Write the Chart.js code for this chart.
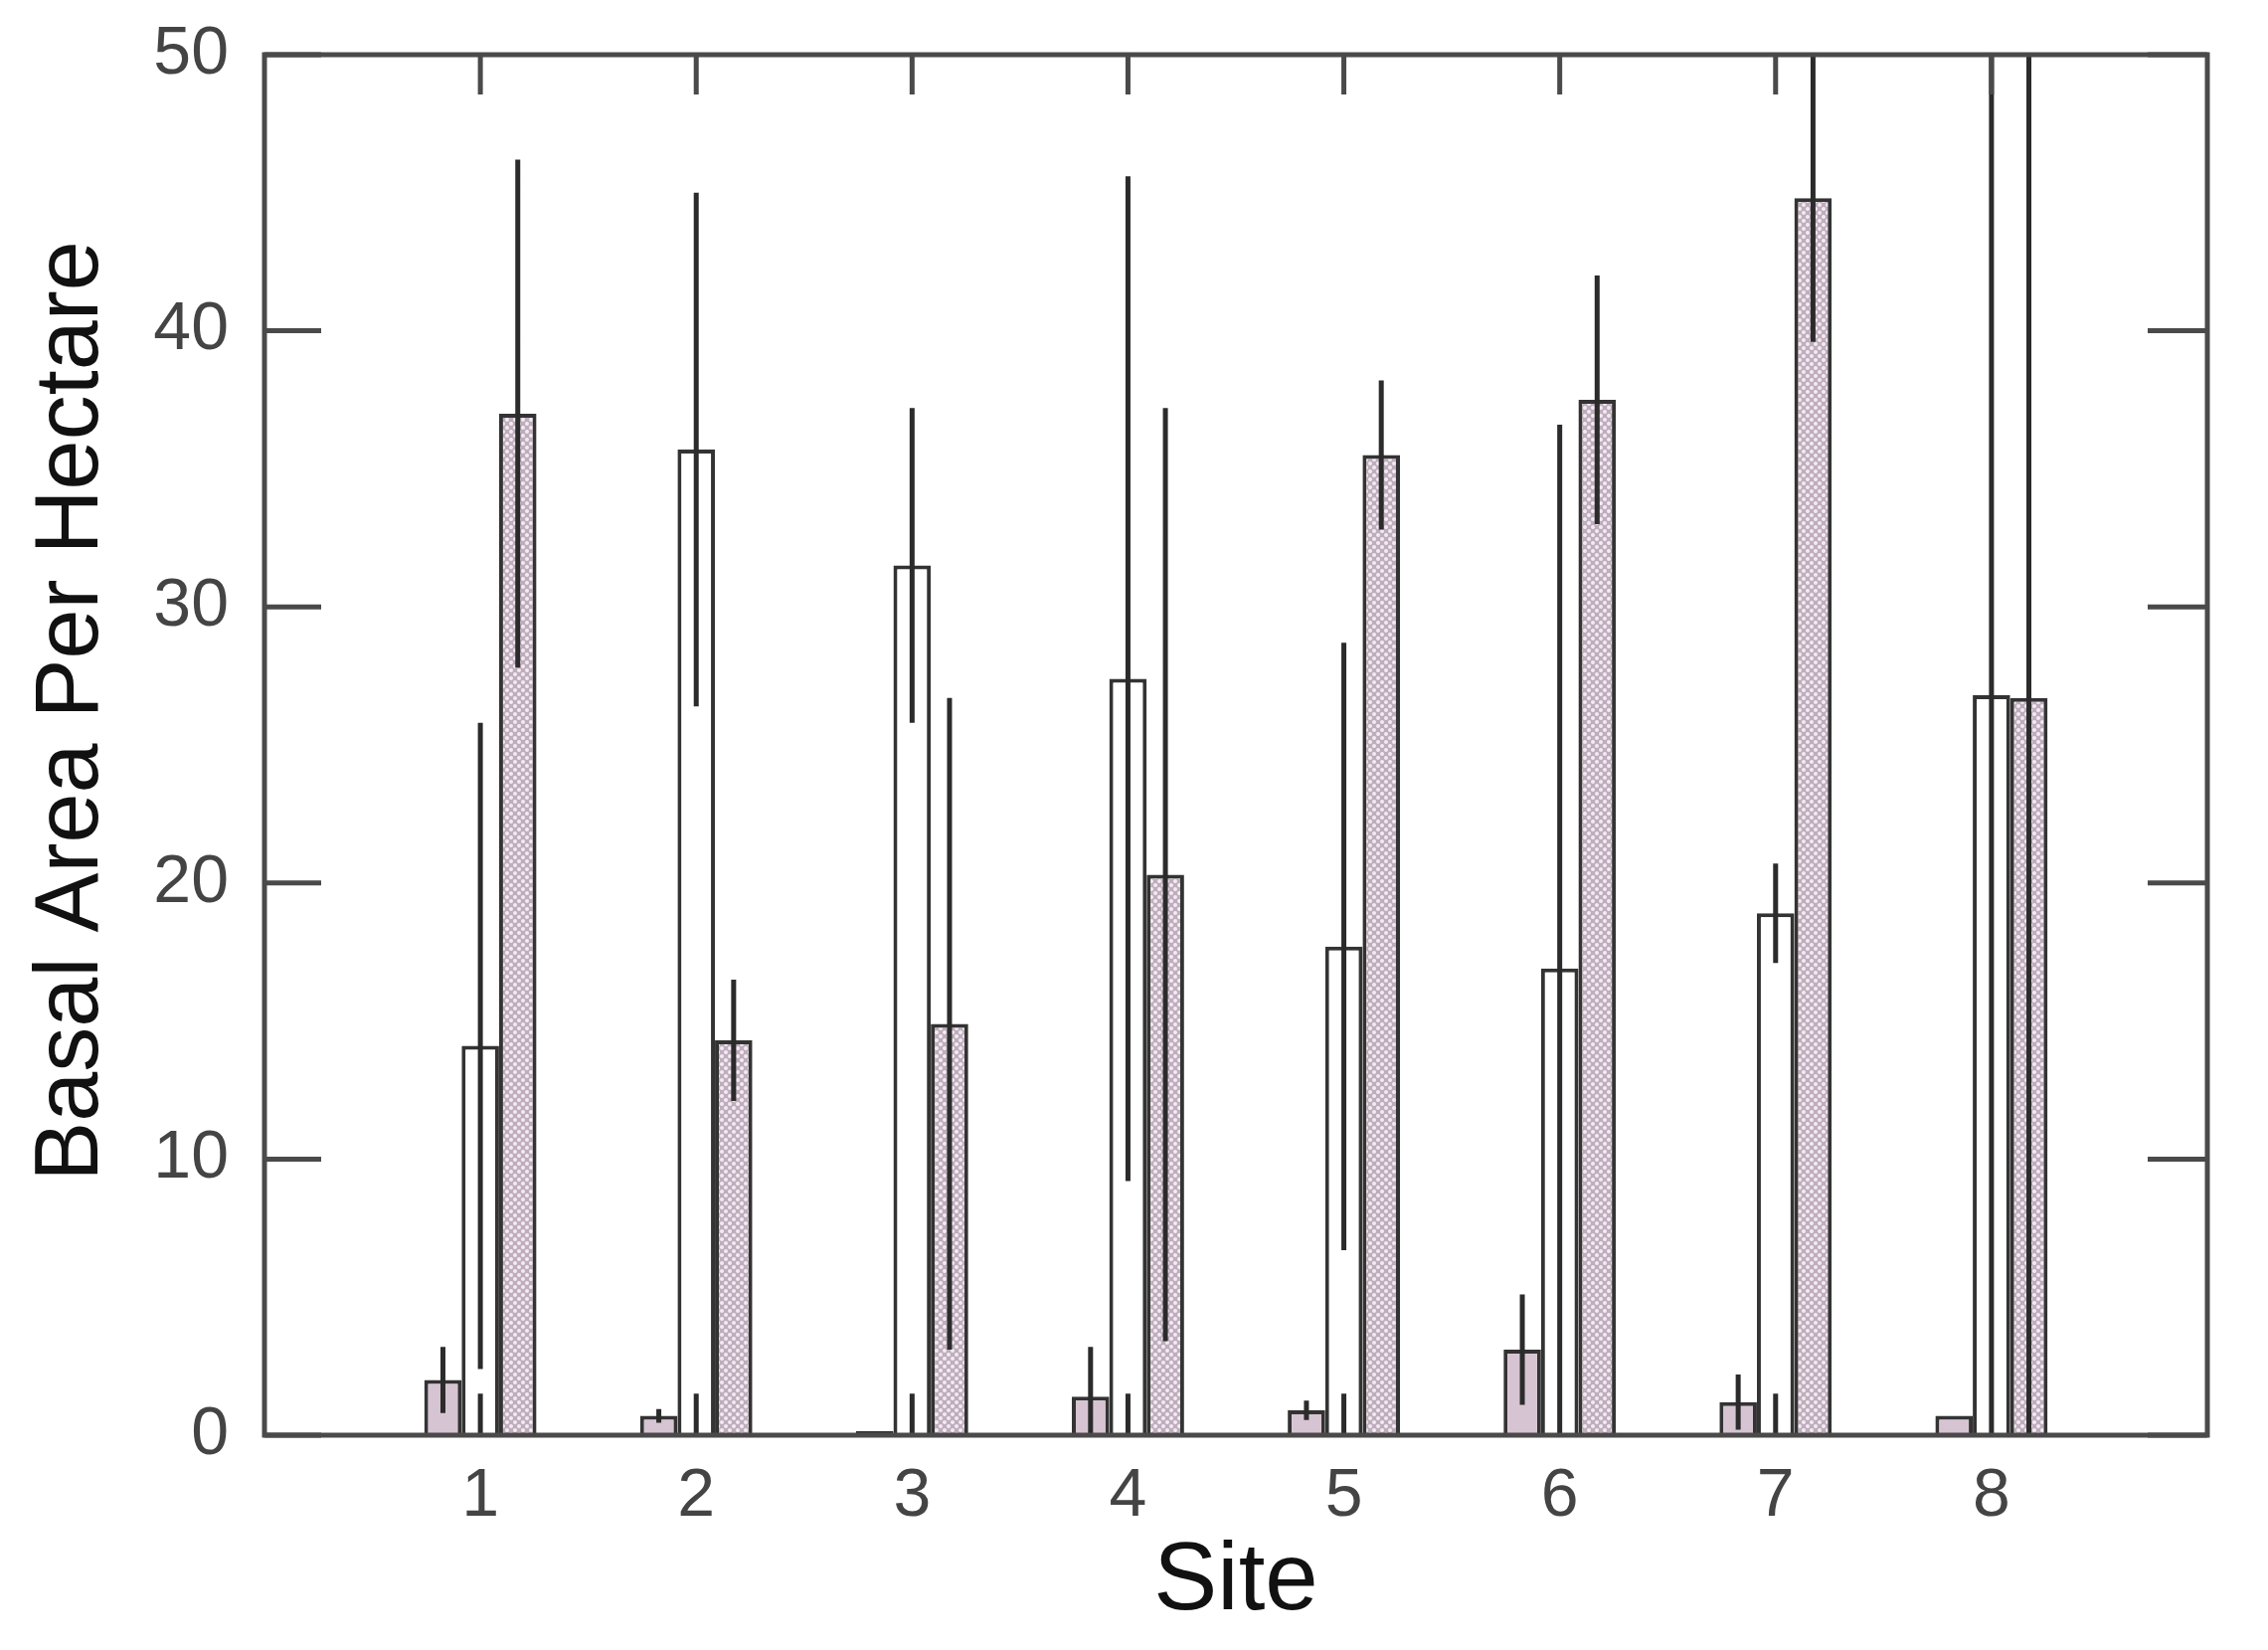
<!DOCTYPE html>
<html lang="en">
<head>
<meta charset="UTF-8">
<title>Basal Area Per Hectare by Site</title>
<style>
  html, body { margin: 0; padding: 0; background: #fff; }
  #wrap { width: 2281px; height: 1659px; }
</style>
</head>
<body>
<div id="wrap"><canvas id="basalChart" width="2281" height="1659"></canvas></div>
<script src="https://cdn.jsdelivr.net/npm/chart.js"></script>
<script>
// sites and y tick values
const sites = [1, 2, 3, 4, 5, 6, 7, 8];
const yTicks = [0, 10, 20, 30, 40, 50];

// three bars per site, with +/- error
const solidVals  = [2.0, 0.7, 0.15, 1.4, 0.9, 3.1, 1.2, 0.7];
const solidErr   = [1.2, 0.25, 0, 1.8, 0.35, 2.0, 1.0, 0];
const openVals   = [14.1, 35.7, 31.5, 27.4, 17.7, 16.9, 18.9, 26.8];
const openErr    = [11.7, 9.3, 5.7, 18.2, 11.0, 19.7, 1.8, 30];
const hatchVals  = [37.0, 14.3, 14.9, 20.3, 35.5, 37.5, 44.8, 26.7];
const hatchErr   = [9.2, 2.2, 11.8, 16.9, 2.7, 4.5, 5.2, 30];
// short stub drawn from 0 under each open bar
const openStub   = [1.5, 1.5, 1.5, 1.5, 1.5, 1.5, 1.5, 1.5];

const FONT = '"Liberation Sans", Arial, sans-serif';
const Y_TITLE = 'Basal Area Per Hectare';

function makeHatch() {
    const c = document.createElement('canvas');
    c.width = 8; c.height = 8;
    const g = c.getContext('2d');
    g.fillStyle = '#bfadbd';
    g.fillRect(0, 0, 8, 8);
    g.fillStyle = '#f3ebf1';
    [[2, 2], [6, 6]].forEach(([px, py]) => {
        g.beginPath();
        g.arc(px, py, 2.0, 0, Math.PI * 2);
        g.fill();
    });
    return g.createPattern(c, 'repeat');
}

const toPoints = vals => vals.map((v, i) => ({ x: sites[i], y: v }));

const errorBars = {
    id: 'errorBars',
    afterDatasetsDraw(chart) {
        const { ctx, chartArea: a, scales: { y } } = chart;
        const errs = [solidErr, openErr, hatchErr];
        ctx.save();
        ctx.beginPath();
        ctx.rect(a.left, a.top, a.right - a.left, a.bottom - a.top);
        ctx.clip();
        ctx.strokeStyle = '#2b2b2b';
        ctx.lineWidth = 5;
        ctx.beginPath();
        chart.data.datasets.forEach((ds, di) => {
            chart.getDatasetMeta(di).data.forEach((bar, j) => {
                const v = ds.data[j].y, e = errs[di][j];
                if (!e) return;
                ctx.moveTo(bar.x, y.getPixelForValue(Math.max(0, v - e)));
                ctx.lineTo(bar.x, y.getPixelForValue(v + e));
            });
        });
        chart.getDatasetMeta(1).data.forEach((bar, j) => {
            ctx.moveTo(bar.x, y.getPixelForValue(0));
            ctx.lineTo(bar.x, y.getPixelForValue(openStub[j]));
        });
        ctx.stroke();
        ctx.restore();
    },
    afterDraw(chart) {
        const { ctx, chartArea: a, scales: { x, y } } = chart;
        ctx.save();
        ctx.strokeStyle = '#4a4a4a';
        ctx.lineWidth = 5;
        ctx.strokeRect(a.left, a.top, a.right - a.left, a.bottom - a.top);
        ctx.beginPath();
        yTicks.forEach(v => {
            const py = y.getPixelForValue(v);
            ctx.moveTo(a.left, py); ctx.lineTo(a.left + 57, py);
            ctx.moveTo(a.right, py); ctx.lineTo(a.right - 60, py);
        });
        sites.forEach(s => {
            const px = x.getPixelForValue(s);
            ctx.moveTo(px, a.top); ctx.lineTo(px, a.top + 40);
        });
        ctx.stroke();

        // y axis title, sits a little above the plot centre as in the figure
        ctx.translate(73, (a.top + a.bottom) / 2 - 34);
        ctx.rotate(-Math.PI / 2);
        ctx.fillStyle = '#111';
        ctx.font = '90px ' + FONT;
        ctx.textAlign = 'center';
        ctx.textBaseline = 'middle';
        ctx.fillText(Y_TITLE, 0, 0);
        ctx.restore();
    }
};

const barStyle = { borderColor: '#333', borderWidth: 4, categoryPercentage: 0.52, barPercentage: 1 };

new Chart(document.getElementById('basalChart'), {
    type: 'bar',
    data: {
        datasets: [
            { label: 'A', data: toPoints(solidVals), backgroundColor: '#d6c4d3', ...barStyle },
            { label: 'B', data: toPoints(openVals), backgroundColor: '#ffffff', ...barStyle },
            { label: 'C', data: toPoints(hatchVals), backgroundColor: makeHatch(), ...barStyle }
        ]
    },
    options: {
        responsive: false,
        animation: false,
        devicePixelRatio: 1,
        layout: { padding: { left: 24, right: 61, top: 55, bottom: 19 } },
        plugins: { legend: { display: false }, tooltip: { enabled: false } },
        scales: {
            x: {
                type: 'linear',
                min: 0,
                max: 9,
                offset: false,
                grid: { display: false, drawTicks: false },
                border: { display: false },
                ticks: {
                    stepSize: 1,
                    padding: 28,
                    color: '#444',
                    font: { family: FONT, size: 68, lineHeight: 1 },
                    callback: v => sites.includes(v) ? String(v) : ''
                },
                title: {
                    display: true,
                    text: 'Site',
                    color: '#111',
                    padding: 0,
                    font: { family: FONT, size: 96, lineHeight: 1 }
                },
                afterFit: s => {
                    s.height = 1659 - 1443 - 19;
                    s.paddingLeft = 0; s.paddingRight = 0;
                }
            },
            y: {
                min: 0,
                max: 50,
                grid: { display: false, drawTicks: false },
                border: { display: false },
                ticks: {
                    stepSize: 10,
                    padding: 36,
                    color: '#444',
                    font: { family: FONT, size: 68, lineHeight: 1 }
                },
                title: { display: false, text: Y_TITLE },
                afterFit: s => {
                    s.width = 266 - 24;
                    s.paddingTop = 0; s.paddingBottom = 0;
                }
            }
        }
    },
    plugins: [errorBars]
});
</script>
</body>
</html>
